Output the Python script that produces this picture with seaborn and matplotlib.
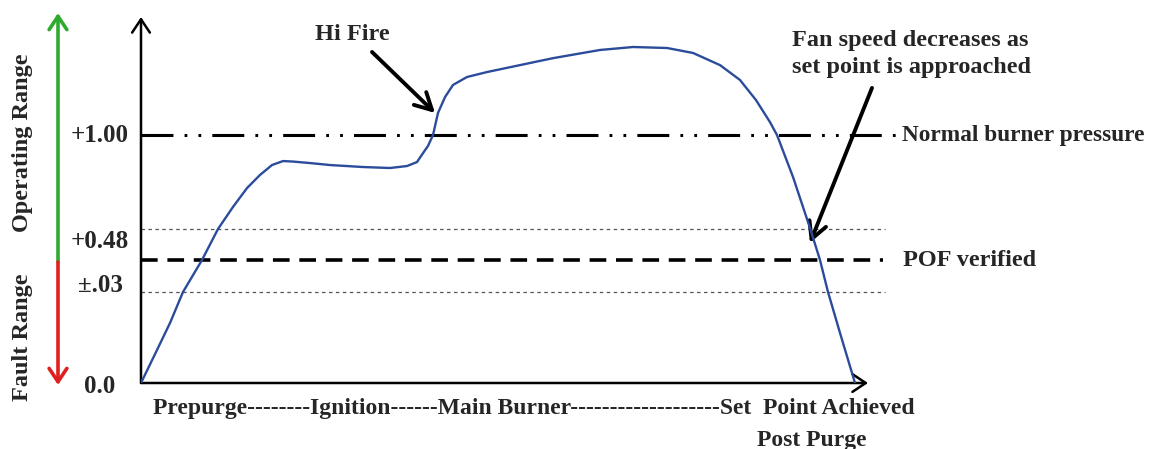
import matplotlib
matplotlib.use("Agg")
import matplotlib.pyplot as plt
import seaborn as sns
import pandas as pd

# ---- data (time units, pressure units where 1.00 = normal burner pressure) ----
curve_x = [0, 16, 29, 42, 61, 77, 92, 106, 119, 131, 142, 152, 169, 189, 222,
           249, 266, 276, 282, 287, 292, 297, 304, 312, 326, 346, 379, 412, 459,
           492, 526, 552, 579, 599, 615, 629, 636, 652, 669, 679, 687, 699, 714]
curve_y = [0.0, 0.133, 0.242, 0.367, 0.496, 0.621, 0.710, 0.786, 0.839, 0.879,
           0.895, 0.893, 0.887, 0.879, 0.871, 0.867, 0.875, 0.891, 0.927, 0.956,
           1.0, 1.089, 1.153, 1.202, 1.234, 1.254, 1.282, 1.310, 1.343, 1.355,
           1.351, 1.331, 1.282, 1.222, 1.141, 1.052, 1.0, 0.831, 0.625, 0.496,
           0.367, 0.202, 0.0]

normal_level = 1.0
pof_level = 0.496
band_upper = 0.621
band_lower = 0.367

tick_labels = ["+1.00", "+0.48", "\u00b1.03", "0.0"]
tick_label_y = [1.0, 0.569, 0.395, -0.016]

phase_text = "Prepurge--------Ignition------Main Burner-------------------Set  Point Achieved"
post_text = "Post Purge"

sns.set_theme(style="white")
plt.rcParams["font.family"] = ["Liberation Serif", "DejaVu Serif"]
plt.rcParams["font.weight"] = "bold"
plt.rcParams["lines.scale_dashes"] = False

fig = plt.figure(figsize=(11.57, 4.49), dpi=100)
ax = fig.add_axes([141 / 1157, (449 - 383) / 449, (868 - 141) / 1157, (383 - 17) / 449])
ax.set_xlim(0, 727)
ax.set_ylim(0, 1.476)
for s in ax.spines.values():
    s.set_visible(False)
ax.set_xticks([])
ax.set_yticks([])
ax.patch.set_alpha(0)

df = pd.DataFrame({"t": curve_x, "p": curve_y})
sns.lineplot(data=df, x="t", y="p", sort=False, estimator=None, ax=ax,
             color="#2b4c9b", lw=1.7, zorder=5)

# reference lines
ax.plot([0, 757], [normal_level] * 2, color="black", lw=2.2, clip_on=False,
        linestyle=(0, (23, 8, 2, 8, 2, 8)))
ax.plot([0, 742], [pof_level] * 2, color="black", lw=2.6, clip_on=False,
        linestyle=(0, (12, 7)))
for lvl in (band_upper, band_lower):
    ax.plot([0, 744], [lvl] * 2, color="#555555", lw=0.9, clip_on=False,
            linestyle=(0, (2.5, 2.5)))

arrow_kw = dict(lw=1.8, color="black", mutation_scale=16, shrinkA=0, shrinkB=0,
                arrowstyle="->,head_length=0.6,head_width=0.4")
# axes arrows
ax.annotate("", xy=(0, 1.0), xytext=(0, 0), xycoords="axes fraction",
            arrowprops=arrow_kw)
ax.annotate("", xy=(1.0, 0), xytext=(0, 0), xycoords="axes fraction",
            arrowprops=arrow_kw)

fs = 17.5
for lab, yv in zip(tick_labels, tick_label_y):
    ax.text(-41, yv, lab, ha="center", va="center", fontsize=18,
            fontweight="bold", clip_on=False)

# range arrows
ax.annotate("", xy=(-83, 1.492), xytext=(-83, 0.488), xycoords="data",
            annotation_clip=False,
            arrowprops=dict(arrowstyle="->,head_length=0.6,head_width=0.4",
                            lw=2.6, color="#2eaa2e", mutation_scale=16,
                            shrinkA=0, shrinkB=0))
ax.annotate("", xy=(-83, -0.008), xytext=(-83, 0.488), xycoords="data",
            annotation_clip=False,
            arrowprops=dict(arrowstyle="->,head_length=0.6,head_width=0.4",
                            lw=2.6, color="#e02020", mutation_scale=16,
                            shrinkA=0, shrinkB=0))
ax.text(-119, 0.968, "Operating Range", rotation=90, ha="center", va="center",
        fontsize=fs, fontweight="bold", clip_on=False)
ax.text(-119, 0.185, "Fault Range", rotation=90, ha="center", va="center",
        fontsize=fs, fontweight="bold", clip_on=False)

# annotations
ax.text(211, 1.405, "Hi Fire", ha="center", va="center", fontsize=fs,
        fontweight="bold", clip_on=False)
ax.annotate("", xy=(294, 1.089), xytext=(231, 1.335), xycoords="data",
            annotation_clip=False,
            arrowprops=dict(arrowstyle="->,head_length=0.75,head_width=0.4",
                            lw=2.8, color="black", mutation_scale=16,
                            shrinkA=0, shrinkB=0))
ax.text(651, 1.327, "Fan speed decreases as\nset point is approached",
        ha="left", va="center", fontsize=fs, fontweight="bold",
        linespacing=1.35, clip_on=False)
ax.annotate("", xy=(669, 0.565), xytext=(731, 1.190), xycoords="data",
            annotation_clip=False,
            arrowprops=dict(arrowstyle="->,head_length=0.75,head_width=0.4",
                            lw=2.8, color="black", mutation_scale=16,
                            shrinkA=0, shrinkB=0))
ax.text(761, normal_level, "Normal burner pressure", ha="left", va="center",
        fontsize=16.8, fontweight="bold", clip_on=False)
ax.text(762, pof_level, "POF verified", ha="left", va="center",
        fontsize=fs, fontweight="bold", clip_on=False)

ax.text(12, -0.103, phase_text, ha="left", va="center", fontsize=17,
        fontweight="bold", clip_on=False)
ax.text(671, -0.232, post_text, ha="center", va="center", fontsize=17,
        fontweight="bold", clip_on=False)

ax.set_xlabel("")
ax.set_ylabel("")
fig.savefig("out.png", dpi=100)
